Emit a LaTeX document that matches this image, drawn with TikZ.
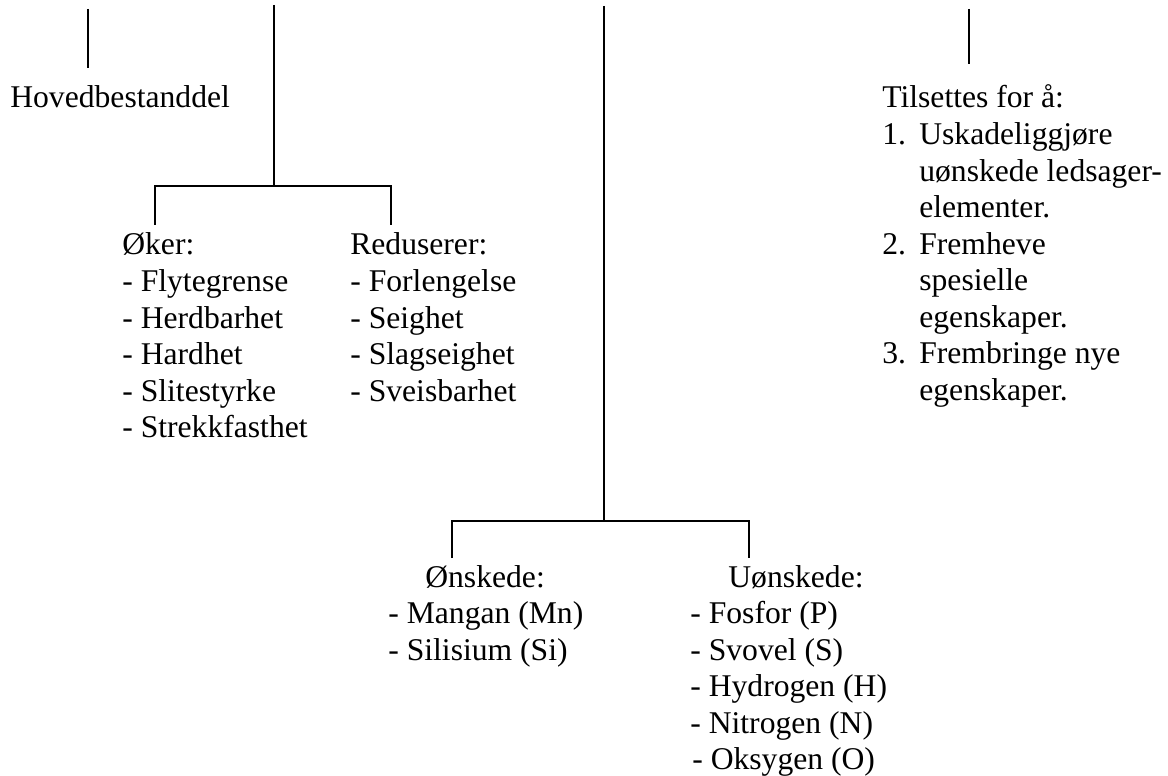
\documentclass[tikz,border=0pt]{standalone}
\usepackage{fontspec}
\setmainfont{Liberation Serif}
\newcommand{\textlines}[1]{\begin{tabular}[t]{@{}l@{}}#1\end{tabular}}
\begin{document}
\begin{tikzpicture}[
   x=0.02cm,y=-0.02cm,
   every node/.style={font=\fontsize{18pt}{20.8pt}\selectfont,inner sep=0pt,anchor=base west},
   branch/.style={line width=1.1pt},
   stem/.style={line width=1.1pt,shorten >=0.36cm}]
\useasboundingbox (0,0) rectangle (1168,776);
% text blocks
\node (hoved) at (10,108) {Hovedbestanddel};
\node (oker) at (122,255) {\textlines{Øker:\\- Flytegrense\\- Herdbarhet\\- Hardhet\\- Slitestyrke\\- Strekkfasthet}};
\node (redus) at (350,255) {\textlines{Reduserer:\\- Forlengelse\\- Seighet\\- Slagseighet\\- Sveisbarhet}};
\node (onsk) at (388,587) {\textlines{\hspace*{0.74cm}Ønskede:\\- Mangan (Mn)\\- Silisium (Si)}};
\node (uonsk) at (690,587) {\textlines{\hspace*{0.76cm}Uønskede:\\- Fosfor (P)\\- Svovel (S)\\- Hydrogen (H)\\- Nitrogen (N)\\\hspace*{0.04cm}- Oksygen (O)}};
\node (tils) at (882,108) {\textlines{Tilsettes for å:\\
   \makebox[0.74cm][l]{1.}Uskadeliggjøre\\\hspace*{0.74cm}uønskede ledsager-\\\hspace*{0.74cm}elementer.\\
   \makebox[0.74cm][l]{2.}Fremheve\\\hspace*{0.74cm}spesielle\\\hspace*{0.74cm}egenskaper.\\
   \makebox[0.74cm][l]{3.}Frembringe nye\\\hspace*{0.74cm}egenskaper.}};
% branch points
\coordinate (topA) at (88,9);
\coordinate (topB) at (274,5);
\coordinate (topC) at (604,6);
\coordinate (topD) at (969,9);
\coordinate (forkB) at (274,186);
\coordinate (forkC) at (604,521);
\coordinate (okerdrop) at (155,225);
\coordinate (redusdrop) at (391,225);
\coordinate (onskdrop) at (452,558);
\coordinate (uonskdrop) at (749,558);
% connectors
\draw[stem] (topA) -- (hoved.north -| topA);
\draw[stem] (topD) -- (tils.north -| topD);
\draw[branch] (topB) -- (forkB);
\draw[branch] (okerdrop) |- (forkB) -| (redusdrop);
\draw[branch] (topC) -- (forkC);
\draw[branch] (onskdrop) |- (forkC) -| (uonskdrop);
\end{tikzpicture}
\end{document}
